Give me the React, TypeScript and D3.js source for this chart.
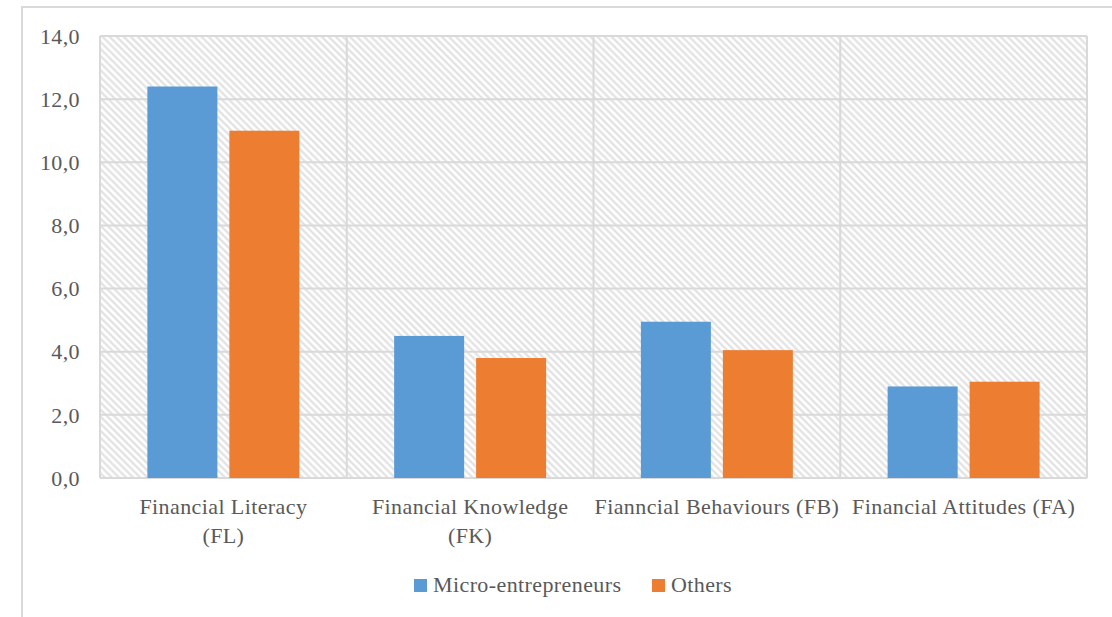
import { useEffect, useRef } from 'react';
import * as d3 from 'd3';

// data
const categories: string[][] = [
	['Financial Literacy', '(FL)'],
	['Financial Knowledge', '(FK)'],
	['Fianncial Behaviours (FB)'],
	['Financial Attitudes (FA)']
];
const seriesNames: string[] = ['Micro-entrepreneurs', 'Others'];
const microValues: number[] = [12.4, 4.5, 4.95, 2.9];
const otherValues: number[] = [11.0, 3.8, 4.05, 3.05];
const yTicks: number[] = [0, 2, 4, 6, 8, 10, 12, 14];
const colors: string[] = ['#5b9bd5', '#ed7d31'];

function App() {
	const ref = useRef<SVGSVGElement>(null);
	const width = 1112;
	const height = 617;
	const plot = { left: 100, right: 1087, top: 36, bottom: 478 };

	useEffect(() => {
		const svg = d3.select(ref.current);
		svg.selectAll('*').remove();

		const font = '"Liberation Serif", "Times New Roman", serif';
		const textColor = '#595959';
		const gridColor = '#d9d9d9';

		// hatch pattern
		const pat = svg
			.append('defs')
			.append('pattern')
			.attr('id', 'hatch')
			.attr('patternUnits', 'userSpaceOnUse')
			.attr('width', 5)
			.attr('height', 5)
			.attr('patternTransform', 'rotate(-45)');
		pat.append('rect').attr('width', 5).attr('height', 5).attr('fill', '#ffffff');
		pat.append('line')
			.attr('x1', 1.5)
			.attr('y1', 0)
			.attr('x2', 1.5)
			.attr('y2', 5)
			.attr('stroke', '#dedede')
			.attr('stroke-width', 2);

		svg.append('rect').attr('width', width).attr('height', height).attr('fill', '#ffffff');

		// outer frame
		svg.append('rect')
			.attr('x', 22)
			.attr('y', 7)
			.attr('width', 1200)
			.attr('height', 700)
			.attr('fill', 'none')
			.attr('stroke', gridColor)
			.attr('stroke-width', 2);

		const keys = categories.map((c) => c.join(' '));
		const x = d3.scaleBand<string>().domain(keys).range([plot.left, plot.right]).padding(0);
		const x1 = d3
			.scaleBand<string>()
			.domain(seriesNames)
			.range([0, x.bandwidth()])
			.paddingInner(0.146)
			.paddingOuter(0.578);
		const y = d3.scaleLinear().domain([0, 14]).range([plot.bottom, plot.top]);

		svg.append('rect')
			.attr('x', plot.left)
			.attr('y', plot.top)
			.attr('width', plot.right - plot.left)
			.attr('height', plot.bottom - plot.top)
			.attr('fill', 'url(#hatch)');

		// horizontal grid
		svg.append('g')
			.selectAll('line')
			.data(yTicks)
			.enter()
			.append('line')
			.attr('x1', plot.left)
			.attr('x2', plot.right)
			.attr('y1', (d) => y(d))
			.attr('y2', (d) => y(d))
			.attr('stroke', gridColor)
			.attr('stroke-width', 2);

		// vertical grid at band edges
		const edges = keys.map((k) => x(k) as number).concat([plot.right]);
		svg.append('g')
			.selectAll('line')
			.data(edges)
			.enter()
			.append('line')
			.attr('x1', (d) => d)
			.attr('x2', (d) => d)
			.attr('y1', plot.top)
			.attr('y2', plot.bottom)
			.attr('stroke', gridColor)
			.attr('stroke-width', 2);

		// bars
		const rows = keys.map((k, i) => ({ key: k, values: [microValues[i], otherValues[i]] }));
		const groups = svg
			.append('g')
			.selectAll('g')
			.data(rows)
			.enter()
			.append('g')
			.attr('transform', (d) => `translate(${x(d.key)},0)`);
		groups
			.selectAll('rect')
			.data((d) => d.values.map((v, j) => ({ name: seriesNames[j], value: v, color: colors[j] })))
			.enter()
			.append('rect')
			.attr('x', (d) => x1(d.name) as number)
			.attr('width', x1.bandwidth())
			.attr('y', (d) => y(d.value))
			.attr('height', (d) => y(0) - y(d.value))
			.attr('fill', (d) => d.color);

		const textStyle = (sel: d3.Selection<any, any, any, any>) =>
			sel
				.style('font-family', font)
				.style('font-size', '22px')
				.style('letter-spacing', '0.4px')
				.style('fill', textColor);

		// y labels
		svg.append('g')
			.selectAll('text')
			.data(yTicks)
			.enter()
			.append('text')
			.attr('x', 80)
			.attr('y', (d) => y(d))
			.attr('dy', '0.35em')
			.attr('text-anchor', 'end')
			.call(textStyle)
			.text((d) => d.toFixed(1).replace('.', ','));

		// category labels
		const cat = svg
			.append('g')
			.selectAll('text')
			.data(categories)
			.enter()
			.append('text')
			.attr('text-anchor', 'middle')
			.call(textStyle)
			.attr('transform', (d) => `translate(${(x(d.join(' ')) as number) + x.bandwidth() / 2},514)`);
		cat.selectAll('tspan')
			.data((d) => d)
			.enter()
			.append('tspan')
			.attr('x', 0)
			.attr('y', (_d, i) => i * 29)
			.text((d) => d);

		// legend
		const legendX = [414, 652];
		const legend = svg
			.append('g')
			.selectAll('g')
			.data(seriesNames)
			.enter()
			.append('g')
			.attr('transform', (_d, i) => `translate(${legendX[i]},579)`);
		legend.append('rect').attr('width', 13).attr('height', 13).attr('fill', (_d, i) => colors[i]);
		legend.append('text')
			.attr('x', 19)
			.attr('y', 13)
			.call(textStyle)
			.text((d) => d);
	}, []);

	return (
		<svg
			ref={ref}
			width={width}
			height={height}
			style={{ position: 'absolute', left: 0, top: 0 }}
		/>
	);
}

export default App;
